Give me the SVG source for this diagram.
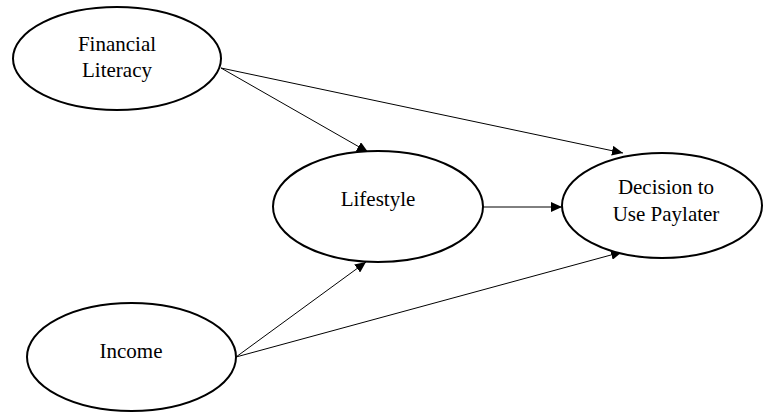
<svg xmlns="http://www.w3.org/2000/svg" width="763" height="413" viewBox="0 0 763 413">
<style>
.node ellipse{fill:#fff;stroke:#000;stroke-width:2}
.node text{font-family:"Liberation Serif","Times New Roman",serif;font-size:21px;fill:#000;text-anchor:middle}
.edges line{stroke:#000;stroke-width:1;marker-end:url(#arr)}
</style>
<defs>
<marker id="arr" markerWidth="11" markerHeight="10" refX="11" refY="5" orient="auto" markerUnits="userSpaceOnUse">
<path d="M0,0 L11,5 L0,10 Z" fill="#000"/>
</marker>
</defs>
<rect width="763" height="413" fill="#fff"/>
<g class="edges">
<line x1="221" y1="68" x2="368" y2="152"/>
<line x1="221" y1="68" x2="623" y2="153"/>
<line x1="236" y1="357" x2="366" y2="262"/>
<line x1="236" y1="357" x2="622" y2="252"/>
<line x1="483" y1="207" x2="562" y2="207"/>
</g>
<g id="financial-literacy" class="node">
<ellipse cx="117" cy="58.5" rx="104" ry="51.5"/>
<text x="117" y="51">Financial</text>
<text x="117" y="77">Literacy</text>
</g>
<g id="lifestyle" class="node">
<ellipse cx="378" cy="206.5" rx="105" ry="55.5"/>
<text x="378" y="206">Lifestyle</text>
</g>
<g id="decision" class="node">
<ellipse cx="662" cy="205.5" rx="100" ry="52.5"/>
<text x="666" y="194">Decision to</text>
<text x="666" y="221">Use Paylater</text>
</g>
<g id="income" class="node">
<ellipse cx="131.5" cy="357" rx="104.5" ry="54"/>
<text x="131" y="358">Income</text>
</g>
</svg>
